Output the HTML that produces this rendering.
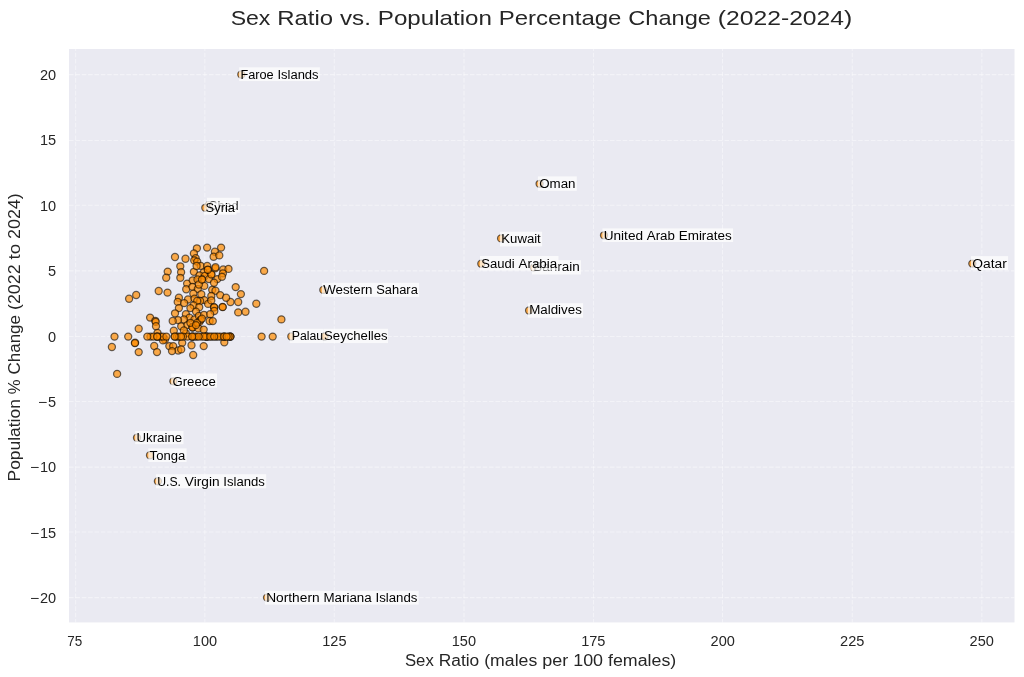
<!DOCTYPE html><html><head><meta charset="utf-8"><title>Sex Ratio vs. Population Percentage Change (2022-2024)</title>
<style>html,body{margin:0;padding:0;background:#fff;}body{width:1024px;height:677px;overflow:hidden;font-family:"Liberation Sans",sans-serif;}svg{display:block;will-change:transform;}text{font-family:"Liberation Sans",sans-serif;}</style></head><body>
<svg width="1024" height="677" viewBox="0 0 1024 677">
<rect x="0" y="0" width="1024" height="677" fill="#ffffff"/>
<rect x="69.0" y="49.0" width="945.5" height="573.45" fill="#eaeaf2"/>
<g stroke="#ffffff" stroke-opacity="0.43" stroke-width="1.1" stroke-dasharray="4.6 1.764" fill="none">
<line x1="75.65" y1="622.45" x2="75.65" y2="49.0" stroke-dashoffset="1.2"/>
<line x1="204.85" y1="622.45" x2="204.85" y2="49.0" stroke-dashoffset="1.2"/>
<line x1="334.30" y1="622.45" x2="334.30" y2="49.0" stroke-dashoffset="1.2"/>
<line x1="464.00" y1="622.45" x2="464.00" y2="49.0" stroke-dashoffset="1.2"/>
<line x1="593.55" y1="622.45" x2="593.55" y2="49.0" stroke-dashoffset="1.2"/>
<line x1="722.50" y1="622.45" x2="722.50" y2="49.0" stroke-dashoffset="1.2"/>
<line x1="852.28" y1="622.45" x2="852.28" y2="49.0" stroke-dashoffset="1.2"/>
<line x1="981.85" y1="622.45" x2="981.85" y2="49.0" stroke-dashoffset="1.2"/>
<line x1="69.0" y1="597.60" x2="1014.5" y2="597.60"/>
<line x1="69.0" y1="532.05" x2="1014.5" y2="532.05"/>
<line x1="69.0" y1="467.15" x2="1014.5" y2="467.15"/>
<line x1="69.0" y1="401.45" x2="1014.5" y2="401.45"/>
<line x1="69.0" y1="336.55" x2="1014.5" y2="336.55"/>
<line x1="69.0" y1="270.90" x2="1014.5" y2="270.90"/>
<line x1="69.0" y1="205.30" x2="1014.5" y2="205.30"/>
<line x1="69.0" y1="140.45" x2="1014.5" y2="140.45"/>
<line x1="69.0" y1="74.58" x2="1014.5" y2="74.58"/>
</g>
<g font-size="13.9" fill="#262626">
<text x="74.70" y="645.8" text-anchor="middle" textLength="15.0" lengthAdjust="spacingAndGlyphs">75</text>
<text x="204.96" y="645.8" text-anchor="middle" textLength="24.3" lengthAdjust="spacingAndGlyphs">100</text>
<text x="334.42" y="645.8" text-anchor="middle" textLength="24.3" lengthAdjust="spacingAndGlyphs">125</text>
<text x="463.87" y="645.8" text-anchor="middle" textLength="24.3" lengthAdjust="spacingAndGlyphs">150</text>
<text x="593.33" y="645.8" text-anchor="middle" textLength="24.3" lengthAdjust="spacingAndGlyphs">175</text>
<text x="722.79" y="645.8" text-anchor="middle" textLength="24.3" lengthAdjust="spacingAndGlyphs">200</text>
<text x="852.25" y="645.8" text-anchor="middle" textLength="24.3" lengthAdjust="spacingAndGlyphs">225</text>
<text x="981.70" y="645.8" text-anchor="middle" textLength="24.3" lengthAdjust="spacingAndGlyphs">250</text>
<text x="34.50" y="603.10" text-anchor="middle" textLength="9.2" lengthAdjust="spacingAndGlyphs">−</text>
<text x="56.1" y="603.10" text-anchor="end" textLength="16.2" lengthAdjust="spacingAndGlyphs">20</text>
<text x="34.50" y="537.71" text-anchor="middle" textLength="9.2" lengthAdjust="spacingAndGlyphs">−</text>
<text x="56.1" y="537.71" text-anchor="end" textLength="16.2" lengthAdjust="spacingAndGlyphs">15</text>
<text x="34.50" y="472.32" text-anchor="middle" textLength="9.2" lengthAdjust="spacingAndGlyphs">−</text>
<text x="56.1" y="472.32" text-anchor="end" textLength="16.2" lengthAdjust="spacingAndGlyphs">10</text>
<text x="42.60" y="406.94" text-anchor="middle" textLength="9.2" lengthAdjust="spacingAndGlyphs">−</text>
<text x="56.1" y="406.94" text-anchor="end" textLength="8.1" lengthAdjust="spacingAndGlyphs">5</text>
<text x="56.1" y="341.55" text-anchor="end" textLength="8.1" lengthAdjust="spacingAndGlyphs">0</text>
<text x="56.1" y="276.16" text-anchor="end" textLength="8.1" lengthAdjust="spacingAndGlyphs">5</text>
<text x="56.1" y="210.77" text-anchor="end" textLength="16.2" lengthAdjust="spacingAndGlyphs">10</text>
<text x="56.1" y="145.39" text-anchor="end" textLength="16.2" lengthAdjust="spacingAndGlyphs">15</text>
<text x="56.1" y="80.00" text-anchor="end" textLength="16.2" lengthAdjust="spacingAndGlyphs">20</text>
</g>
<text y="25.1" font-size="20.9" fill="#262626"><tspan x="230.67" textLength="39.75" lengthAdjust="spacingAndGlyphs">Sex</tspan> <tspan x="277.28" textLength="55.89" lengthAdjust="spacingAndGlyphs">Ratio</tspan> <tspan x="340.03" textLength="30.88" lengthAdjust="spacingAndGlyphs">vs.</tspan> <tspan x="377.77" textLength="114.17" lengthAdjust="spacingAndGlyphs">Population</tspan> <tspan x="498.79" textLength="122.66" lengthAdjust="spacingAndGlyphs">Percentage</tspan> <tspan x="628.31" textLength="82.63" lengthAdjust="spacingAndGlyphs">Change</tspan> <tspan x="717.81" textLength="134.49" lengthAdjust="spacingAndGlyphs">(2022-2024)</tspan></text>
<text y="665.9" font-size="15.6" fill="#262626"><tspan x="404.97" textLength="28.81" lengthAdjust="spacingAndGlyphs">Sex</tspan> <tspan x="438.76" textLength="40.51" lengthAdjust="spacingAndGlyphs">Ratio</tspan> <tspan x="484.24" textLength="53.05" lengthAdjust="spacingAndGlyphs">(males</tspan> <tspan x="542.26" textLength="25.99" lengthAdjust="spacingAndGlyphs">per</tspan> <tspan x="573.22" textLength="29.86" lengthAdjust="spacingAndGlyphs">100</tspan> <tspan x="608.05" textLength="68.18" lengthAdjust="spacingAndGlyphs">females)</tspan></text>
<text transform="translate(19.9,480.1) rotate(-90)" y="0" font-size="15.6" fill="#262626"><tspan x="-1.32" textLength="82.25" lengthAdjust="spacingAndGlyphs">Population</tspan> <tspan x="85.87" textLength="14.77" lengthAdjust="spacingAndGlyphs">%</tspan> <tspan x="105.59" textLength="59.53" lengthAdjust="spacingAndGlyphs">Change</tspan> <tspan x="170.06" textLength="45.64" lengthAdjust="spacingAndGlyphs">(2022</tspan> <tspan x="220.64" textLength="15.61" lengthAdjust="spacingAndGlyphs">to</tspan> <tspan x="241.19" textLength="45.64" lengthAdjust="spacingAndGlyphs">2024)</tspan></text>
<g fill="#ff8c00" fill-opacity="0.7" stroke="#000000" stroke-opacity="0.58" stroke-width="1.25">
<circle cx="167.7" cy="271.6" r="3.55"/>
<circle cx="166.2" cy="277.7" r="3.55"/>
<circle cx="235.7" cy="287.1" r="3.55"/>
<circle cx="240.9" cy="294.1" r="3.55"/>
<circle cx="167.5" cy="292.6" r="3.55"/>
<circle cx="230.5" cy="302.0" r="3.55"/>
<circle cx="238.2" cy="302.0" r="3.55"/>
<circle cx="264.1" cy="270.9" r="3.55"/>
<circle cx="256.3" cy="303.7" r="3.55"/>
<circle cx="281.4" cy="319.4" r="3.55"/>
<circle cx="238.2" cy="312.4" r="3.55"/>
<circle cx="245.5" cy="311.7" r="3.55"/>
<circle cx="182.2" cy="342.8" r="3.55"/>
<circle cx="191.5" cy="345.2" r="3.55"/>
<circle cx="203.7" cy="346.1" r="3.55"/>
<circle cx="224.3" cy="342.3" r="3.55"/>
<circle cx="169.3" cy="346.1" r="3.55"/>
<circle cx="173.2" cy="346.1" r="3.55"/>
<circle cx="178.2" cy="350.5" r="3.55"/>
<circle cx="181.2" cy="349.4" r="3.55"/>
<circle cx="172.0" cy="351.1" r="3.55"/>
<circle cx="193.2" cy="355.0" r="3.55"/>
<circle cx="165.0" cy="339.5" r="3.55"/>
<circle cx="129.1" cy="298.7" r="3.55"/>
<circle cx="136.2" cy="295.0" r="3.55"/>
<circle cx="158.7" cy="291.0" r="3.55"/>
<circle cx="150.1" cy="317.6" r="3.55"/>
<circle cx="155.3" cy="320.8" r="3.55"/>
<circle cx="155.7" cy="321.9" r="3.55"/>
<circle cx="156.0" cy="326.2" r="3.55"/>
<circle cx="138.7" cy="328.7" r="3.55"/>
<circle cx="135.1" cy="342.7" r="3.55"/>
<circle cx="134.9" cy="343.1" r="3.55"/>
<circle cx="111.9" cy="347.0" r="3.55"/>
<circle cx="138.7" cy="352.1" r="3.55"/>
<circle cx="154.2" cy="346.0" r="3.55"/>
<circle cx="157.0" cy="352.1" r="3.55"/>
<circle cx="157.5" cy="332.9" r="3.55"/>
<circle cx="163.0" cy="340.4" r="3.55"/>
<circle cx="175.0" cy="257.0" r="3.55"/>
<circle cx="185.5" cy="258.8" r="3.55"/>
<circle cx="196.9" cy="248.3" r="3.55"/>
<circle cx="207.1" cy="247.6" r="3.55"/>
<circle cx="221.1" cy="247.6" r="3.55"/>
<circle cx="214.9" cy="251.7" r="3.55"/>
<circle cx="213.6" cy="256.8" r="3.55"/>
<circle cx="219.3" cy="255.4" r="3.55"/>
<circle cx="193.9" cy="253.5" r="3.55"/>
<circle cx="195.7" cy="258.3" r="3.55"/>
<circle cx="194.2" cy="260.4" r="3.55"/>
<circle cx="197.2" cy="261.6" r="3.55"/>
<circle cx="180.3" cy="266.3" r="3.55"/>
<circle cx="181.1" cy="272.2" r="3.55"/>
<circle cx="193.9" cy="271.8" r="3.55"/>
<circle cx="200.7" cy="265.9" r="3.55"/>
<circle cx="196.6" cy="266.0" r="3.55"/>
<circle cx="207.2" cy="266.0" r="3.55"/>
<circle cx="207.8" cy="269.8" r="3.55"/>
<circle cx="215.2" cy="268.4" r="3.55"/>
<circle cx="215.5" cy="267.2" r="3.55"/>
<circle cx="223.2" cy="269.5" r="3.55"/>
<circle cx="228.5" cy="268.9" r="3.55"/>
<circle cx="222.9" cy="273.4" r="3.55"/>
<circle cx="211.3" cy="274.6" r="3.55"/>
<circle cx="203.7" cy="272.5" r="3.55"/>
<circle cx="199.5" cy="275.4" r="3.55"/>
<circle cx="204.8" cy="276.0" r="3.55"/>
<circle cx="187.1" cy="283.6" r="3.55"/>
<circle cx="186.2" cy="289.2" r="3.55"/>
<circle cx="192.7" cy="280.3" r="3.55"/>
<circle cx="201.9" cy="279.4" r="3.55"/>
<circle cx="197.5" cy="279.4" r="3.55"/>
<circle cx="209.0" cy="279.1" r="3.55"/>
<circle cx="217.3" cy="279.1" r="3.55"/>
<circle cx="222.0" cy="276.8" r="3.55"/>
<circle cx="214.0" cy="282.7" r="3.55"/>
<circle cx="192.4" cy="286.8" r="3.55"/>
<circle cx="197.8" cy="288.9" r="3.55"/>
<circle cx="204.3" cy="285.9" r="3.55"/>
<circle cx="198.9" cy="284.5" r="3.55"/>
<circle cx="212.2" cy="289.8" r="3.55"/>
<circle cx="215.5" cy="290.7" r="3.55"/>
<circle cx="220.2" cy="295.1" r="3.55"/>
<circle cx="226.1" cy="297.7" r="3.55"/>
<circle cx="193.3" cy="293.6" r="3.55"/>
<circle cx="201.3" cy="294.2" r="3.55"/>
<circle cx="211.3" cy="296.0" r="3.55"/>
<circle cx="178.9" cy="297.7" r="3.55"/>
<circle cx="177.7" cy="301.9" r="3.55"/>
<circle cx="188.0" cy="299.5" r="3.55"/>
<circle cx="194.5" cy="298.6" r="3.55"/>
<circle cx="184.2" cy="303.1" r="3.55"/>
<circle cx="204.3" cy="300.1" r="3.55"/>
<circle cx="200.1" cy="301.0" r="3.55"/>
<circle cx="197.2" cy="301.0" r="3.55"/>
<circle cx="208.1" cy="303.9" r="3.55"/>
<circle cx="211.3" cy="300.4" r="3.55"/>
<circle cx="193.6" cy="305.4" r="3.55"/>
<circle cx="199.2" cy="307.2" r="3.55"/>
<circle cx="214.0" cy="307.2" r="3.55"/>
<circle cx="214.2" cy="307.4" r="3.55"/>
<circle cx="214.3" cy="311.0" r="3.55"/>
<circle cx="222.6" cy="306.9" r="3.55"/>
<circle cx="222.7" cy="307.1" r="3.55"/>
<circle cx="178.9" cy="308.1" r="3.55"/>
<circle cx="190.4" cy="308.1" r="3.55"/>
<circle cx="196.0" cy="311.6" r="3.55"/>
<circle cx="180.3" cy="277.8" r="3.55"/>
<circle cx="175.0" cy="313.3" r="3.55"/>
<circle cx="185.9" cy="314.2" r="3.55"/>
<circle cx="189.5" cy="317.7" r="3.55"/>
<circle cx="183.9" cy="319.5" r="3.55"/>
<circle cx="178.0" cy="320.1" r="3.55"/>
<circle cx="172.7" cy="321.0" r="3.55"/>
<circle cx="181.2" cy="326.3" r="3.55"/>
<circle cx="187.4" cy="325.1" r="3.55"/>
<circle cx="192.7" cy="327.2" r="3.55"/>
<circle cx="192.9" cy="327.0" r="3.55"/>
<circle cx="192.4" cy="327.5" r="3.55"/>
<circle cx="198.4" cy="328.4" r="3.55"/>
<circle cx="203.7" cy="329.6" r="3.55"/>
<circle cx="173.8" cy="330.7" r="3.55"/>
<circle cx="185.9" cy="333.4" r="3.55"/>
<circle cx="183.9" cy="330.4" r="3.55"/>
<circle cx="194.5" cy="319.5" r="3.55"/>
<circle cx="198.9" cy="316.0" r="3.55"/>
<circle cx="204.0" cy="314.8" r="3.55"/>
<circle cx="210.2" cy="314.2" r="3.55"/>
<circle cx="199.5" cy="321.9" r="3.55"/>
<circle cx="200.7" cy="319.8" r="3.55"/>
<circle cx="209.6" cy="321.0" r="3.55"/>
<circle cx="212.8" cy="321.1" r="3.55"/>
<circle cx="197.2" cy="322.8" r="3.55"/>
<circle cx="201.9" cy="318.6" r="3.55"/>
<circle cx="190.4" cy="322.8" r="3.55"/>
<circle cx="196.0" cy="325.1" r="3.55"/>
<circle cx="117.1" cy="373.9" r="3.55"/>
<circle cx="211.4" cy="274.4" r="3.55"/>
<circle cx="202.0" cy="279.6" r="3.55"/>
<circle cx="207.8" cy="269.7" r="3.55"/>
<circle cx="192.3" cy="336.6" r="3.55"/>
<circle cx="216.1" cy="336.6" r="3.55"/>
<circle cx="174.8" cy="336.6" r="3.55"/>
<circle cx="177.0" cy="336.6" r="3.55"/>
<circle cx="160.4" cy="336.6" r="3.55"/>
<circle cx="230.3" cy="336.6" r="3.55"/>
<circle cx="162.9" cy="336.6" r="3.55"/>
<circle cx="179.1" cy="336.6" r="3.55"/>
<circle cx="230.3" cy="336.6" r="3.55"/>
<circle cx="201.5" cy="336.6" r="3.55"/>
<circle cx="224.0" cy="336.6" r="3.55"/>
<circle cx="224.1" cy="336.6" r="3.55"/>
<circle cx="208.5" cy="336.6" r="3.55"/>
<circle cx="157.1" cy="336.6" r="3.55"/>
<circle cx="114.5" cy="336.6" r="3.55"/>
<circle cx="192.2" cy="336.6" r="3.55"/>
<circle cx="187.6" cy="336.6" r="3.55"/>
<circle cx="166.4" cy="336.6" r="3.55"/>
<circle cx="196.6" cy="336.6" r="3.55"/>
<circle cx="220.6" cy="336.6" r="3.55"/>
<circle cx="230.4" cy="336.6" r="3.55"/>
<circle cx="206.4" cy="336.6" r="3.55"/>
<circle cx="218.1" cy="336.6" r="3.55"/>
<circle cx="183.0" cy="336.6" r="3.55"/>
<circle cx="128.2" cy="336.6" r="3.55"/>
<circle cx="206.5" cy="336.6" r="3.55"/>
<circle cx="181.0" cy="336.6" r="3.55"/>
<circle cx="206.4" cy="336.6" r="3.55"/>
<circle cx="157.1" cy="336.6" r="3.55"/>
<circle cx="212.2" cy="336.6" r="3.55"/>
<circle cx="224.0" cy="336.6" r="3.55"/>
<circle cx="203.9" cy="336.6" r="3.55"/>
<circle cx="150.5" cy="336.6" r="3.55"/>
<circle cx="261.6" cy="336.6" r="3.55"/>
<circle cx="174.7" cy="336.6" r="3.55"/>
<circle cx="210.3" cy="336.6" r="3.55"/>
<circle cx="228.6" cy="336.6" r="3.55"/>
<circle cx="194.6" cy="336.6" r="3.55"/>
<circle cx="153.4" cy="336.6" r="3.55"/>
<circle cx="214.2" cy="336.6" r="3.55"/>
<circle cx="147.3" cy="336.6" r="3.55"/>
<circle cx="272.7" cy="336.6" r="3.55"/>
<circle cx="226.6" cy="336.6" r="3.55"/>
<circle cx="198.6" cy="336.6" r="3.55"/>
<circle cx="157.2" cy="336.6" r="3.55"/>
<circle cx="192.2" cy="336.6" r="3.55"/>
<circle cx="241.3" cy="74.5" r="3.55"/>
<circle cx="539.6" cy="183.8" r="3.55"/>
<circle cx="208.6" cy="205.2" r="3.55"/>
<circle cx="205.3" cy="207.8" r="3.55"/>
<circle cx="501.1" cy="238.4" r="3.55"/>
<circle cx="604.0" cy="235.3" r="3.55"/>
<circle cx="533.8" cy="267.4" r="3.55"/>
<circle cx="481.3" cy="263.7" r="3.55"/>
<circle cx="972.3" cy="263.6" r="3.55"/>
<circle cx="323.3" cy="289.9" r="3.55"/>
<circle cx="529.1" cy="310.5" r="3.55"/>
<circle cx="291.3" cy="336.5" r="3.55"/>
<circle cx="324.6" cy="336.5" r="3.55"/>
<circle cx="173.4" cy="381.3" r="3.55"/>
<circle cx="137.0" cy="437.7" r="3.55"/>
<circle cx="150.0" cy="455.2" r="3.55"/>
<circle cx="157.9" cy="481.2" r="3.55"/>
<circle cx="267.0" cy="597.6" r="3.55"/>
</g>
<g font-size="12" fill="#000000">
<rect x="239.1" y="67.3" width="80.8" height="13.8" fill="#ffffff" fill-opacity="0.7" stroke="none"/>
<text y="78.8"><tspan x="240.40" textLength="33.29" lengthAdjust="spacingAndGlyphs">Faroe</tspan> <tspan x="277.43" textLength="41.18" lengthAdjust="spacingAndGlyphs">Islands</tspan></text>
<rect x="537.9" y="176.4" width="38.9" height="14.4" fill="#ffffff" fill-opacity="0.7" stroke="none"/>
<text y="188.1"><tspan x="539.17" textLength="36.35" lengthAdjust="spacingAndGlyphs">Oman</tspan></text>
<rect x="207.0" y="197.8" width="32.8" height="14.9" fill="#ffffff" fill-opacity="0.7" stroke="none"/>
<text y="209.5"><tspan x="208.30" textLength="30.20" lengthAdjust="spacingAndGlyphs">Chad</tspan></text>
<rect x="204.2" y="201.6" width="32.2" height="13.0" fill="#ffffff" fill-opacity="0.7" stroke="none"/>
<text y="212.1"><tspan x="205.50" textLength="29.60" lengthAdjust="spacingAndGlyphs">Syria</tspan></text>
<rect x="500.0" y="231.7" width="42.1" height="14.7" fill="#ffffff" fill-opacity="0.7" stroke="none"/>
<text y="242.7"><tspan x="501.31" textLength="39.49" lengthAdjust="spacingAndGlyphs">Kuwait</tspan></text>
<rect x="602.4" y="228.4" width="130.7" height="13.6" fill="#ffffff" fill-opacity="0.7" stroke="none"/>
<text y="239.6"><tspan x="603.68" textLength="39.35" lengthAdjust="spacingAndGlyphs">United</tspan> <tspan x="646.83" textLength="28.06" lengthAdjust="spacingAndGlyphs">Arab</tspan> <tspan x="678.70" textLength="53.12" lengthAdjust="spacingAndGlyphs">Emirates</tspan></text>
<rect x="532.0" y="260.2" width="49.0" height="14.3" fill="#ffffff" fill-opacity="0.7" stroke="none"/>
<text y="271.2"><tspan x="533.28" textLength="46.44" lengthAdjust="spacingAndGlyphs">Bahrain</tspan></text>
<rect x="480.0" y="256.0" width="78.5" height="14.5" fill="#ffffff" fill-opacity="0.7" stroke="none"/>
<text y="268.0"><tspan x="481.28" textLength="33.44" lengthAdjust="spacingAndGlyphs">Saudi</tspan> <tspan x="518.52" textLength="38.70" lengthAdjust="spacingAndGlyphs">Arabia</tspan></text>
<rect x="971.0" y="256.1" width="37.1" height="13.9" fill="#ffffff" fill-opacity="0.7" stroke="none"/>
<text y="267.9"><tspan x="972.26" textLength="34.58" lengthAdjust="spacingAndGlyphs">Qatar</tspan></text>
<rect x="321.9" y="282.8" width="97.2" height="14.1" fill="#ffffff" fill-opacity="0.7" stroke="none"/>
<text y="294.2"><tspan x="323.20" textLength="49.32" lengthAdjust="spacingAndGlyphs">Western</tspan> <tspan x="376.27" textLength="41.54" lengthAdjust="spacingAndGlyphs">Sahara</tspan></text>
<rect x="527.9" y="303.2" width="55.2" height="14.5" fill="#ffffff" fill-opacity="0.7" stroke="none"/>
<text y="314.1"><tspan x="529.18" textLength="52.64" lengthAdjust="spacingAndGlyphs">Maldives</tspan></text>
<rect x="289.7" y="328.8" width="33.9" height="14.3" fill="#ffffff" fill-opacity="0.7" stroke="none"/>
<text y="340.2"><tspan x="291.73" textLength="31.36" lengthAdjust="spacingAndGlyphs">Palau</tspan></text>
<rect x="323.6" y="328.8" width="64.4" height="14.3" fill="#ffffff" fill-opacity="0.7" stroke="none"/>
<text y="340.2"><tspan x="324.09" textLength="63.53" lengthAdjust="spacingAndGlyphs">Seychelles</tspan></text>
<rect x="171.2" y="373.5" width="45.8" height="14.1" fill="#ffffff" fill-opacity="0.7" stroke="none"/>
<text y="385.6"><tspan x="172.47" textLength="43.25" lengthAdjust="spacingAndGlyphs">Greece</tspan></text>
<rect x="135.2" y="431.0" width="48.3" height="13.2" fill="#ffffff" fill-opacity="0.7" stroke="none"/>
<text y="442.0"><tspan x="136.49" textLength="45.72" lengthAdjust="spacingAndGlyphs">Ukraine</tspan></text>
<rect x="148.3" y="448.4" width="38.3" height="13.6" fill="#ffffff" fill-opacity="0.7" stroke="none"/>
<text y="459.5"><tspan x="149.62" textLength="35.67" lengthAdjust="spacingAndGlyphs">Tonga</tspan></text>
<rect x="155.9" y="474.2" width="110.3" height="14.1" fill="#ffffff" fill-opacity="0.7" stroke="none"/>
<text y="485.5"><tspan x="157.19" textLength="23.83" lengthAdjust="spacingAndGlyphs">U.S.</tspan> <tspan x="184.80" textLength="34.74" lengthAdjust="spacingAndGlyphs">Virgin</tspan> <tspan x="223.32" textLength="41.60" lengthAdjust="spacingAndGlyphs">Islands</tspan></text>
<rect x="264.9" y="590.8" width="153.8" height="13.8" fill="#ffffff" fill-opacity="0.7" stroke="none"/>
<text y="601.9"><tspan x="266.18" textLength="53.44" lengthAdjust="spacingAndGlyphs">Northern</tspan> <tspan x="323.44" textLength="48.25" lengthAdjust="spacingAndGlyphs">Mariana</tspan> <tspan x="375.50" textLength="41.92" lengthAdjust="spacingAndGlyphs">Islands</tspan></text>
</g>
</svg></body></html>
